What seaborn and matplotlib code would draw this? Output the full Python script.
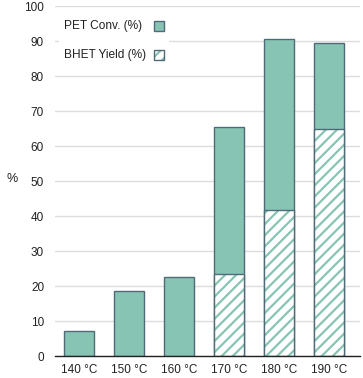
import pandas as pd
import seaborn as sns
import matplotlib.pyplot as plt
from matplotlib.patches import Rectangle

# data
temps = ['140 °C', '150 °C', '160 °C', '170 °C', '180 °C', '190 °C']
pet_conv = [7.2, 18.5, 22.7, 65.4, 90.5, 89.4]
bhet_yield = [0, 0, 0, 23.4, 41.7, 64.9]
legend_labels = ['PET Conv. (%)', 'BHET Yield (%)']

teal = '#87c4b4'
edge = '#4f6b78'

df = pd.DataFrame({'temp': temps, 'conv': pet_conv, 'yield': bhet_yield})

sns.set_theme(style='white')
plt.rcParams['font.family'] = ['Liberation Sans', 'DejaVu Sans']
plt.rcParams['hatch.linewidth'] = 1.6

fig = plt.figure(figsize=(3.63, 3.78), dpi=100)
ax = fig.add_axes([0.152, 0.058, 0.84, 0.926])

# conversion bars
sns.barplot(data=df, x='temp', y='conv', color=teal, width=0.6,
            saturation=1, edgecolor=edge, linewidth=1.0, ax=ax, zorder=2)
# hatched yield bars (hatch drawn in teal)
sns.barplot(data=df, x='temp', y='yield', color='white', width=0.6,
            saturation=1, edgecolor=teal, linewidth=0, hatch='///',
            ax=ax, zorder=3)
# outline for yield part
sns.barplot(data=df, x='temp', y='yield', fill=False, width=0.6,
            edgecolor=edge, linewidth=1.0, ax=ax, zorder=4)
for p in ax.patches:
    if p.get_height() == 0:
        p.set_visible(False)

ax.set_ylim(0, 100)
ax.set_xlim(-0.48, 5.63)
ax.set_yticks(range(0, 101, 10))
ax.yaxis.grid(True, color='#dcdcdc', linewidth=1.0)
ax.set_axisbelow(True)
for s in ['left', 'right', 'top']:
    ax.spines[s].set_visible(False)
ax.spines['bottom'].set_color('#222222')
ax.spines['bottom'].set_linewidth(1.0)
ax.spines['bottom'].set_zorder(5)
ax.tick_params(axis='both', length=0, labelsize=8.5, colors='#222222')
ax.tick_params(axis='y', pad=8)
ax.tick_params(axis='x', pad=6)
ax.set_xlabel('')
ax.set_ylabel('%', rotation=0, fontsize=9, color='#222222')
ax.yaxis.set_label_coords(-0.14, 0.49)

# legend: text on the left, swatch on the right, texts left-aligned
ax.add_patch(Rectangle((0.012, 0.82), 0.36, 0.16, transform=ax.transAxes,
                       facecolor='white', edgecolor='none', zorder=1.5))
ax.text(0.030, 0.943, legend_labels[0], transform=ax.transAxes, fontsize=8.6,
        color='#222222', va='center', ha='left', zorder=6)
ax.text(0.030, 0.860, legend_labels[1], transform=ax.transAxes, fontsize=8.6,
        color='#222222', va='center', ha='left', zorder=6)
ax.add_patch(Rectangle((0.325, 0.929), 0.0328, 0.0286, transform=ax.transAxes,
                       facecolor=teal, edgecolor=edge, linewidth=1.0, zorder=6))
ax.add_patch(Rectangle((0.325, 0.846), 0.0328, 0.0286, transform=ax.transAxes,
                       facecolor='white', edgecolor=teal, linewidth=0,
                       hatch='///', zorder=6))
ax.add_patch(Rectangle((0.325, 0.846), 0.0328, 0.0286, transform=ax.transAxes,
                       facecolor='none', edgecolor=edge, linewidth=1.0, zorder=7))

fig.savefig('out.png', dpi=100)
